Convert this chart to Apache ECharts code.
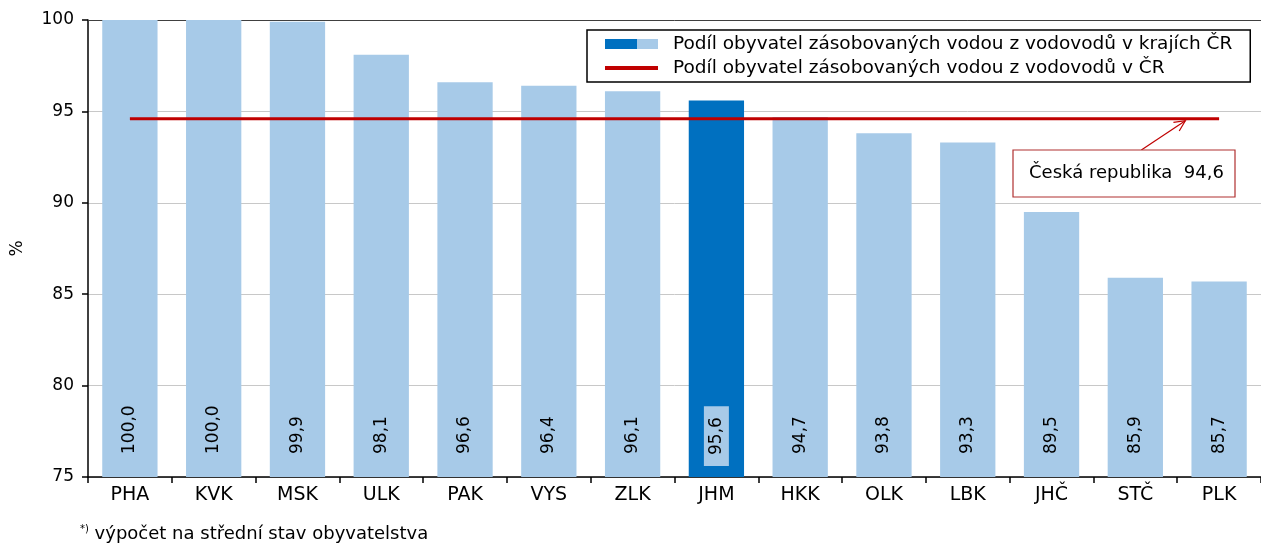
<!DOCTYPE html>
<html><head><meta charset="utf-8">
<script src="https://cdn.jsdelivr.net/npm/echarts@6/dist/echarts.min.js"></script>
<style>html,body{margin:0;padding:0;background:#fff}#c{width:1261px;height:544px}</style>
</head><body><div id="c"></div>
<script>
var categories = ['PHA','KVK','MSK','ULK','PAK','VYS','ZLK','JHM','HKK','OLK','LBK','JHČ','STČ','PLK'];
var values = [100.0, 100.0, 99.9, 98.1, 96.6, 96.4, 96.1, 95.6, 94.7, 93.8, 93.3, 89.5, 85.9, 85.7];
var highlighted = 'JHM';
var crValue = 94.6;
var yTicks = [75, 80, 85, 90, 95, 100];

var LIGHT = '#A7CAE8', DARK = '#0070C0', RED = '#C00000';
var FONT = 'DejaVu Sans';
function fmt(v){ return v.toFixed(1).replace('.', ','); }

var barData = values.map(function(v, i){
  var hi = categories[i] === highlighted;
  return {
    value: v,
    itemStyle: { color: hi ? DARK : LIGHT },
    label: hi ? { backgroundColor: LIGHT, padding: [4, 11, 4, 11], distance: 11 } : {}
  };
});
var lineData = categories.map(function(){ return crValue; });

var legendGrad = { type: 'linear', x: 0, y: 0, x2: 1, y2: 0, colorStops: [
  { offset: 0, color: DARK }, { offset: 0.6, color: DARK },
  { offset: 0.6, color: LIGHT }, { offset: 1, color: LIGHT } ] };

var chart = echarts.init(document.getElementById('c'), null, {renderer:'canvas'});
chart.setOption({
  animation: false,
  textStyle: { fontFamily: FONT },
  grid: { left: 88, right: 0, top: 20, bottom: 67, show: false },
  legend: {
    orient: 'vertical', left: 587, top: 30,
    borderColor: '#000', borderWidth: 1.5, padding: [3, 18, 3, 18],
    itemGap: 2, itemWidth: 53, itemHeight: 10,
    textStyle: { fontFamily: FONT, fontSize: 18.5, lineHeight: 22, color: '#000', padding: [0, 0, 0, 10] },
    data: [
      { name: 'Podíl obyvatel zásobovaných vodou z vodovodů v krajích ČR', icon: 'rect', itemStyle: { color: legendGrad } },
      { name: 'Podíl obyvatel zásobovaných vodou z vodovodů v ČR', icon: 'path://M0,3.5 L40,3.5 L40,6.5 L0,6.5 Z', itemStyle: { color: RED } }
    ]
  },
  xAxis: [{
    type: 'category', data: categories, boundaryGap: true,
    axisLine: { lineStyle: { color: '#000', width: 1.5 } },
    axisTick: { show: true, length: 6, lineStyle: { color: '#000', width: 1.5 } },
    axisLabel: { fontSize: 19, color: '#000', margin: 9, fontFamily: FONT }
  }, {
    type: 'category', data: categories, position: 'top',
    axisLine: { show: true, lineStyle: { color: '#404040', width: 1 } },
    axisTick: { show: false }, axisLabel: { show: false }, splitLine: { show: false }
  }],
  yAxis: {
    type: 'value', min: 75, max: 100, interval: 5,
    name: '%', nameLocation: 'middle', nameRotate: 90, nameGap: 62,
    nameTextStyle: { fontSize: 17, color: '#000', fontFamily: FONT },
    axisLine: { show: true, lineStyle: { color: '#000', width: 1.5 } },
    axisTick: { show: true, length: 6, lineStyle: { color: '#000', width: 1.5 } },
    axisLabel: { fontSize: 17, color: '#000', margin: 14, fontFamily: FONT,
      formatter: function(v){ return yTicks.indexOf(v) >= 0 ? String(v) : ''; } },
    splitLine: { lineStyle: { color: '#C8C8C8', width: 1 } }
  },
  series: [
    {
      name: 'Podíl obyvatel zásobovaných vodou z vodovodů v krajích ČR',
      type: 'bar', data: barData, barWidth: '66%',
      itemStyle: { color: LIGHT },
      label: {
        show: true, position: 'insideBottom', rotate: 90, distance: 23,
        align: 'left', verticalAlign: 'middle',
        fontSize: 17, color: '#000', fontFamily: FONT,
        formatter: function(p){ return fmt(p.value); }
      },
      z: 2
    },
    {
      name: 'Podíl obyvatel zásobovaných vodou z vodovodů v ČR',
      type: 'line', data: lineData, symbol: 'none',
      lineStyle: { color: RED, width: 3 }, itemStyle: { color: RED },
      z: 3
    }
  ]
});

function drawExtras(){
  var tipIdx = categories.length - 2;
  var tip = chart.convertToPixel({gridIndex:0}, [categories[tipIdx], crValue]);
  var tipX = tip[0] + 50, tipY = tip[1] + 2;
  var boxX = 1013, boxY = 150, boxW = 222, boxH = 47;
  var baseX = tipX - 44, baseY = boxY;
  var ang = Math.atan2(tipY - baseY, tipX - baseX);
  var ah = 12;
  chart.setOption({ graphic: [
    { type: 'line', shape: { x1: baseX, y1: baseY, x2: tipX, y2: tipY }, style: { stroke: RED, lineWidth: 1.2 }, z: 10 },
    { type: 'polyline', shape: { points: [
        [tipX - ah*Math.cos(ang - 0.45), tipY - ah*Math.sin(ang - 0.45)],
        [tipX, tipY],
        [tipX - ah*Math.cos(ang + 0.45), tipY - ah*Math.sin(ang + 0.45)]
      ] }, style: { stroke: RED, lineWidth: 1.2, fill: null }, z: 10 },
    { type: 'rect', shape: { x: boxX, y: boxY, width: boxW, height: boxH },
      style: { fill: '#fff', stroke: '#B03030', lineWidth: 1.2 }, z: 10 },
    { type: 'text', x: boxX + 16, y: boxY + boxH/2, z: 11,
      style: { text: 'Česká republika  ' + fmt(crValue), font: '18px "' + FONT + '"', fill: '#000', verticalAlign: 'middle' } },
    { type: 'text', x: 80, y: 534, z: 10,
      style: { text: '{s|*)} výpočet na střední stav obyvatelstva', verticalAlign: 'middle',
        font: '18px "' + FONT + '"', fill: '#000',
        rich: { s: { fontSize: 10, verticalAlign: 'top', padding: [0,0,10,0], fontFamily: FONT } } } }
  ]});
}
drawExtras();
</script>
</body></html>
